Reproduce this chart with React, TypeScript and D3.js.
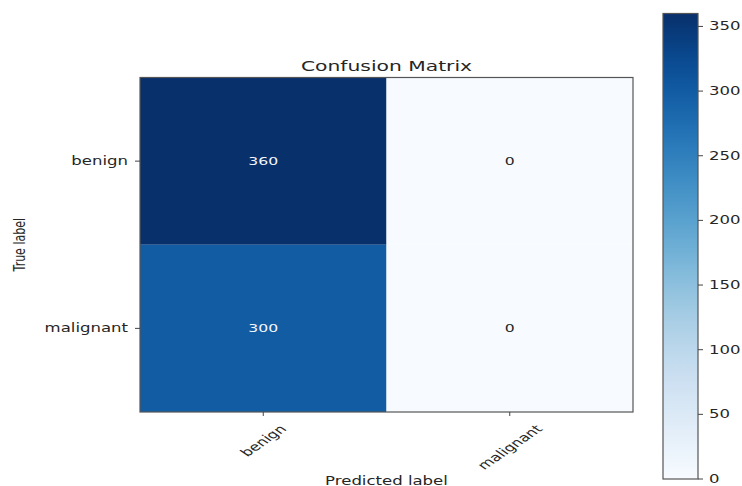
import React, { useEffect, useRef } from "react";
import * as d3 from "d3";

// Confusion matrix values: rows = true label, columns = predicted label
const trueLabels = ["benign", "malignant"];
const predictedLabels = ["benign", "malignant"];
const benignRow = [360, 0];
const malignantRow = [300, 0];
const colorbarTicks = [0, 50, 100, 150, 200, 250, 300, 350];
const colorMax = 360;

const W = 742;
const H = 486;
// Horizontal stretch applied to glyphs so text keeps the figure's aspect
const SX = 1.45;
const FONT = "'DejaVu Sans', 'Liberation Sans', sans-serif";
const INK = "#262626";

export default function App() {
  const ref = useRef<SVGSVGElement>(null);

  useEffect(() => {
    const svg = d3.select(ref.current);
    svg.selectAll("*").remove();

    const rows = [benignRow, malignantRow];
    const cells = rows.flatMap((row, i) =>
      row.map((v, j) => ({ t: trueLabels[i], p: predictedLabels[j], v }))
    );

    const plot = { left: 140, right: 633, top: 77.5, bottom: 412 };
    const x = d3.scaleBand().domain(predictedLabels).range([plot.left, plot.right]);
    const y = d3.scaleBand().domain(trueLabels).range([plot.top, plot.bottom]);
    const color = d3.scaleSequential(d3.interpolateBlues).domain([0, colorMax]);

    const measure = (() => {
      const c = document.createElement("canvas").getContext("2d")!;
      return (s: string, size: number) => {
        c.font = `${size}px ${FONT}`;
        return c.measureText(s).width;
      };
    })();

    // Cells
    svg
      .append("g")
      .selectAll("rect")
      .data(cells)
      .join("rect")
      .attr("x", (d) => x(d.p)!)
      .attr("y", (d) => y(d.t)!)
      .attr("width", x.bandwidth())
      .attr("height", y.bandwidth())
      .attr("fill", (d) => color(d.v));

    // Cell annotations
    const thresh = colorMax / 2;
    svg
      .append("g")
      .selectAll("text")
      .data(cells)
      .join("text")
      .attr(
        "transform",
        (d) =>
          `translate(${x(d.p)! + x.bandwidth() / 2},${y(d.t)! + y.bandwidth() / 2}) scale(${SX},1)`
      )
      .attr("text-anchor", "middle")
      .attr("dominant-baseline", "central")
      .attr("font-family", FONT)
      .attr("font-size", 10.8)
      .attr("fill", (d) => (d.v > thresh ? "#f2f6fb" : INK))
      .text((d) => String(d.v));

    // Frame
    svg
      .append("rect")
      .attr("x", plot.left)
      .attr("y", plot.top)
      .attr("width", plot.right - plot.left)
      .attr("height", plot.bottom - plot.top)
      .attr("fill", "none")
      .attr("stroke", "#555")
      .attr("stroke-width", 1.2);

    // Y ticks and labels
    const yAxis = svg.append("g");
    trueLabels.forEach((lab) => {
      const cy = y(lab)! + y.bandwidth() / 2;
      yAxis
        .append("line")
        .attr("x1", plot.left - 5)
        .attr("x2", plot.left)
        .attr("y1", cy)
        .attr("y2", cy)
        .attr("stroke", "#444")
        .attr("stroke-width", 1);
      yAxis
        .append("text")
        .attr("transform", `translate(${plot.left - 12},${cy}) scale(${SX},1)`)
        .attr("text-anchor", "end")
        .attr("dominant-baseline", "central")
        .attr("font-family", FONT)
        .attr("font-size", 11.4)
        .attr("fill", INK)
        .text(lab);
    });

    // X ticks and rotated labels
    const xAxis = svg.append("g");
    const tickFs = 11.4;
    predictedLabels.forEach((lab) => {
      const cx = x(lab)! + x.bandwidth() / 2;
      xAxis
        .append("line")
        .attr("x1", cx)
        .attr("x2", cx)
        .attr("y1", plot.bottom)
        .attr("y2", plot.bottom + 4)
        .attr("stroke", "#444")
        .attr("stroke-width", 1);
      const L = measure(lab, tickFs);
      const h = tickFs * 0.95;
      const top = plot.bottom + 11;
      const cy = top + ((L + h) * Math.SQRT1_2) / 2;
      xAxis
        .append("text")
        .attr("transform", `translate(${cx},${cy}) scale(${SX},1) rotate(-45)`)
        .attr("text-anchor", "middle")
        .attr("dominant-baseline", "central")
        .attr("font-family", FONT)
        .attr("font-size", tickFs)
        .attr("fill", INK)
        .text(lab);
    });

    // Title and axis labels
    svg
      .append("text")
      .attr("transform", `translate(${(plot.left + plot.right) / 2},71) scale(${SX},1)`)
      .attr("text-anchor", "middle")
      .attr("font-family", FONT)
      .attr("font-size", 14)
      .attr("fill", INK)
      .text("Confusion Matrix");

    svg
      .append("text")
      .attr("transform", `translate(${(plot.left + plot.right) / 2},485) scale(${SX},1)`)
      .attr("text-anchor", "middle")
      .attr("font-family", FONT)
      .attr("font-size", 11.4)
      .attr("fill", INK)
      .text("Predicted label");

    svg
      .append("text")
      .attr("transform", `translate(25,${(plot.top + plot.bottom) / 2}) scale(${SX},1) rotate(-90)`)
      .attr("text-anchor", "middle")
      .attr("font-family", FONT)
      .attr("font-size", 11)
      .attr("fill", INK)
      .text("True label");

    // Colorbar
    const cb = { left: 663, right: 698, top: 13.5, bottom: 479 };
    const cbScale = d3.scaleLinear().domain([0, colorMax]).range([cb.bottom, cb.top]);
    const defs = svg.append("defs");
    const grad = defs
      .append("linearGradient")
      .attr("id", "cbGrad")
      .attr("x1", 0)
      .attr("y1", 1)
      .attr("x2", 0)
      .attr("y2", 0);
    d3.range(0, 1.0001, 0.05).forEach((t) => {
      grad
        .append("stop")
        .attr("offset", t)
        .attr("stop-color", color(t * colorMax));
    });
    svg
      .append("rect")
      .attr("x", cb.left)
      .attr("y", cb.top)
      .attr("width", cb.right - cb.left)
      .attr("height", cb.bottom - cb.top)
      .attr("fill", "url(#cbGrad)")
      .attr("stroke", "#555")
      .attr("stroke-width", 1.2);

    const cbAxis = svg.append("g");
    colorbarTicks.forEach((v) => {
      const ty = cbScale(v);
      cbAxis
        .append("line")
        .attr("x1", cb.right)
        .attr("x2", cb.right + 5)
        .attr("y1", ty)
        .attr("y2", ty)
        .attr("stroke", "#444")
        .attr("stroke-width", 1);
      cbAxis
        .append("text")
        .attr("transform", `translate(${cb.right + 11},${ty}) scale(${SX},1)`)
        .attr("text-anchor", "start")
        .attr("dominant-baseline", "central")
        .attr("font-family", FONT)
        .attr("font-size", 11.4)
        .attr("fill", INK)
        .text(String(v));
    });
  }, []);

  return (
    <svg
      ref={ref}
      width={W}
      height={H}
      style={{ position: "absolute", left: 0, top: 0, background: "#fff" }}
    />
  );
}
